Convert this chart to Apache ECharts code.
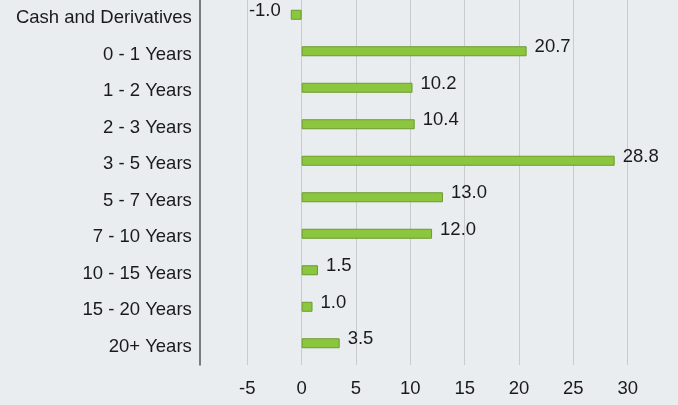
<!DOCTYPE html>
<html><head><meta charset="utf-8">
<script src="https://cdn.jsdelivr.net/npm/echarts@6/dist/echarts.min.js"></script>
<style>html,body{margin:0;padding:0;background:#e9edef;overflow:hidden;}#c{width:678px;height:405px;}</style>
</head><body><div id="c"></div>
<script>
const categories = ["Cash and Derivatives","0 - 1 Years","1 - 2 Years","2 - 3 Years","3 - 5 Years","5 - 7 Years","7 - 10 Years","10 - 15 Years","15 - 20 Years","20+ Years"];
const values = [-1.0, 20.7, 10.2, 10.4, 28.8, 13.0, 12.0, 1.5, 1.0, 3.5];
const xTicks = [-5, 0, 5, 10, 15, 20, 25, 30];

const chart = echarts.init(document.getElementById('c'));
chart.setOption({
  backgroundColor: '#e9edef',
  animation: false,
  grid: {left: 247.3, right: 50.3, top: 0, bottom: 40},
  xAxis: {
    type: 'value', min: xTicks[0], max: xTicks[xTicks.length-1], interval: 5,
    axisLine: {show: false}, axisTick: {show: false},
    axisLabel: {color: '#1a1a1a', fontSize: 18.5, fontFamily: 'Liberation Sans, Arial', margin: 14},
    splitLine: {show: true, lineStyle: {color: '#c9cccd', width: 1}}
  },
  yAxis: {
    type: 'category', data: categories, inverse: true, offset: 47.5,
    axisLine: {show: true, onZero: false, lineStyle: {color: '#555', width: 1.5}},
    axisTick: {show: false},
    axisLabel: {color: '#1a1a1a', fontSize: 18.5, fontFamily: 'Liberation Sans, Arial', margin: 8}
  },
  series: [{
    type: 'bar', barWidth: 10, barGap: '-30%',
    data: values.map(v => ({
      value: v,
      label: {show: true, position: v < 0 ? 'left' : 'right', distance: v < 0 ? 10 : 8, offset: [0, -4],
              formatter: p => p.value.toFixed(1), color: '#1a1a1a', fontSize: 18.5, fontFamily: 'Liberation Sans, Arial'}
    })),
    itemStyle: {color: '#8cc63f', borderColor: '#6b9a2c', borderWidth: 1}
  }, {
    type: 'bar', barWidth: 10, barGap: '-30%', silent: true,
    data: values.map(() => null)
  }]
});
</script></body></html>
